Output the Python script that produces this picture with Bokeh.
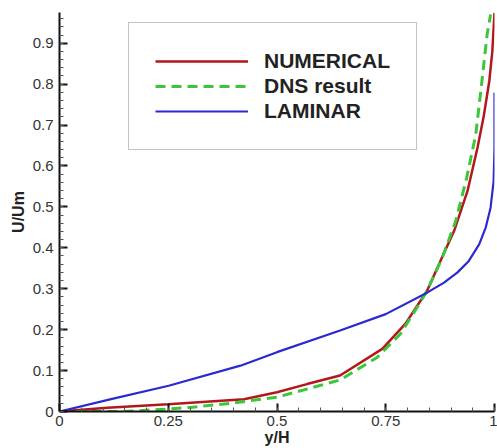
from bokeh.plotting import figure
from bokeh.models import FixedTicker, Legend, LegendItem
from bokeh.embed import file_html
from bokeh.resources import INLINE

# NUMERICAL
x_num = [0, 0.11, 0.25, 0.424, 0.5, 0.569, 0.645, 0.742, 0.795, 0.845, 0.869, 0.883, 0.907, 0.938, 0.961, 0.975, 0.988, 0.995, 1.0]
u_num = [0, 0.009, 0.018, 0.03, 0.047, 0.067, 0.088, 0.153, 0.214, 0.295, 0.352, 0.385, 0.441, 0.539, 0.645, 0.72, 0.807, 0.88, 0.974]
# DNS result
x_dns = [0, 0.15, 0.25, 0.3, 0.393, 0.5, 0.645, 0.73, 0.784, 0.822, 0.845, 0.88, 0.911, 0.936, 0.957, 0.97, 0.983, 0.991]
u_dns = [0, 0.0, 0.006, 0.01, 0.02, 0.035, 0.077, 0.132, 0.19, 0.254, 0.295, 0.376, 0.466, 0.571, 0.677, 0.797, 0.921, 0.97]
# LAMINAR
x_lam = [0, 0.121, 0.251, 0.416, 0.5, 0.645, 0.75, 0.846, 0.884, 0.915, 0.941, 0.965, 0.98, 0.991, 0.998, 1.0, 1.0]
u_lam = [0, 0.031, 0.063, 0.112, 0.145, 0.198, 0.238, 0.291, 0.315, 0.34, 0.368, 0.409, 0.45, 0.498, 0.563, 0.645, 0.779]

x_ticks = [0, 0.25, 0.5, 0.75, 1]
x_tick_labels = ["0", "0.25", "0.5", "0.75", "1"]
x_minor = [i * 0.05 for i in range(21)]
y_ticks = [0, 0.1, 0.2, 0.3, 0.4, 0.5, 0.6, 0.7, 0.8, 0.9]
y_tick_labels = ["0", "0.1", "0.2", "0.3", "0.4", "0.5", "0.6", "0.7", "0.8", "0.9"]
y_minor = [i * 0.02 for i in range(49)]

FONT = "Liberation Sans"

p = figure(width=497, height=448, output_backend="svg", toolbar_location=None,
           x_range=(0, 1), y_range=(0, 0.975),
           min_border_left=59, min_border_right=3, min_border_top=12, min_border_bottom=37)
p.outline_line_color = None
p.xgrid.visible = False
p.ygrid.visible = False

r_num = p.line(x_num, u_num, line_color="#b3171c", line_width=2.5)
r_dns = p.line(x_dns, u_dns, line_color="#3cc63c", line_width=3, line_dash="10 6")
r_lam = p.line(x_lam, u_lam, line_color="#2a2ad0", line_width=2.2)

for ax, ticks, labels, minor in ((p.xaxis[0], x_ticks, x_tick_labels, x_minor),
                                 (p.yaxis[0], y_ticks, y_tick_labels, y_minor)):
    ax.ticker = FixedTicker(ticks=ticks, minor_ticks=minor)
    ax.major_label_overrides = {t: l for t, l in zip(ticks, labels)}
    ax.axis_line_width = 2
    ax.axis_line_color = "#111111"
    ax.major_tick_line_width = 2
    ax.major_tick_line_color = "#111111"
    ax.minor_tick_line_color = "#555555"
    ax.major_tick_in = 8
    ax.major_tick_out = 0
    ax.minor_tick_in = 4
    ax.minor_tick_out = 0
    ax.major_label_text_font = FONT
    ax.major_label_text_font_size = "15px"
    ax.major_label_text_color = "#333333"
    ax.axis_label_text_font = FONT
    ax.axis_label_text_font_size = "16px"
    ax.axis_label_text_font_style = "bold"
    ax.axis_label_text_color = "#222222"

p.xaxis[0].axis_label = "y/H"
p.xaxis[0].major_label_standoff = 4
p.xaxis[0].axis_label_standoff = 0
p.yaxis[0].axis_label = "U/Um"
p.yaxis[0].major_label_standoff = 6
p.yaxis[0].axis_label_standoff = 3

legend = Legend(items=[LegendItem(label="NUMERICAL", renderers=[r_num]),
                       LegendItem(label="DNS result", renderers=[r_dns]),
                       LegendItem(label="LAMINAR", renderers=[r_lam])],
                location=(69, 261))
legend.label_text_font = FONT
legend.label_text_font_size = "21px"
legend.label_text_font_style = "bold"
legend.label_text_color = "#222222"
legend.glyph_width = 93
legend.glyph_height = 20
legend.label_height = 20
legend.spacing = 1
legend.padding = 26
legend.margin = 0
legend.label_standoff = 16
legend.border_line_color = "#8a8a8a"
legend.border_line_width = 1
legend.background_fill_alpha = 1
p.add_layout(legend)

open("out.html", "w").write(file_html(p, INLINE))
